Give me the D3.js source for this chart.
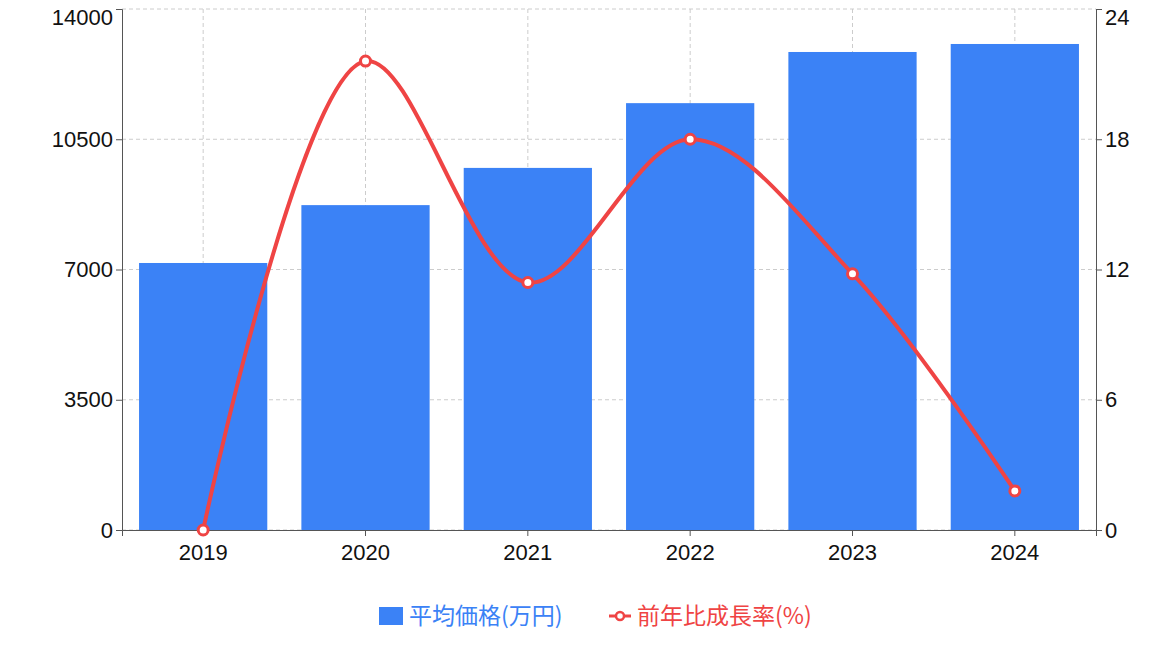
<!doctype html>
<html>
<head>
<meta charset="utf-8">
<title>平均価格</title>
<script src="https://cdn.jsdelivr.net/npm/d3@7"></script>
<style>
*{margin:0;padding:0;}
body{background:white;font-family:"Noto Sans CJK JP","Noto Sans",sans-serif;}
</style>
</head>
<body>
<script>
// データ
var years = ["2019","2020","2021","2022","2023","2024"];
var price = [7175, 8730, 9730, 11470, 12845, 13060];
var growth = [0, 21.6, 11.4, 18.0, 11.8, 1.8];
var leftTicks = [0, 3500, 7000, 10500, 14000];
var rightTicks = [0, 6, 12, 18, 24];

var W = 1153, H = 646;
var m = {left:122, right:57, top:9, bottom:116};
var iw = W - m.left - m.right, ih = H - m.top - m.bottom;

var svg = d3.select("body").append("svg").attr("width", W).attr("height", H);
var g = svg.append("g").attr("transform", "translate(" + m.left + "," + m.top + ")");

var x = d3.scaleBand().domain(years).range([0, iw]).paddingInner(0.21).paddingOuter(0.105);
var yL = d3.scaleLinear().domain([0, 14000]).range([ih, 0]);
var yR = d3.scaleLinear().domain([0, 24]).range([ih, 0]);

// グリッド
g.selectAll(".hg").data(leftTicks).enter().append("line")
  .attr("x1", 0).attr("x2", iw).attr("y1", yL).attr("y2", yL)
  .attr("stroke", "#ccc").attr("stroke-dasharray", "4,3");
g.selectAll(".vg").data(years).enter().append("line")
  .attr("x1", function(d){ return x(d) + x.bandwidth()/2; })
  .attr("x2", function(d){ return x(d) + x.bandwidth()/2; })
  .attr("y1", 0).attr("y2", ih)
  .attr("stroke", "#ccc").attr("stroke-dasharray", "4,3");

// 棒
g.selectAll(".bar").data(price).enter().append("rect")
  .attr("x", function(d, i){ return x(years[i]); })
  .attr("width", x.bandwidth())
  .attr("y", yL).attr("height", function(d){ return ih - yL(d); })
  .attr("fill", "#3b82f6");

// 軸
function styleAxis(sel){
  sel.selectAll("text").attr("font-size", 22).attr("fill", "#111")
    .attr("font-family", "Liberation Sans, Arial, sans-serif");
  sel.selectAll("path,line").attr("stroke", "#555");
}
g.append("g").attr("transform", "translate(0," + ih + ")")
  .call(d3.axisBottom(x).tickSize(6).tickPadding(8)).call(styleAxis);
g.append("g").call(d3.axisLeft(yL).tickValues(leftTicks).tickFormat(d3.format("d")).tickSize(6)).call(styleAxis);
g.append("g").attr("transform", "translate(" + iw + ",0)")
  .call(d3.axisRight(yR).tickValues(rightTicks).tickSize(6)).call(styleAxis);
// 上端のラベルが切れないように少し下げる
g.selectAll(".tick text").filter(function(d){ return d === 14000 || d === 24; }).attr("dy", "0.7em");

// 折れ線
var line = d3.line()
  .x(function(d, i){ return x(years[i]) + x.bandwidth()/2; })
  .y(function(d){ return yR(d); })
  .curve(d3.curveCatmullRom.alpha(0.5));
g.append("path").datum(growth).attr("d", line)
  .attr("fill", "none").attr("stroke", "#ef4444").attr("stroke-width", 4);
g.selectAll(".pt").data(growth).enter().append("circle")
  .attr("cx", function(d, i){ return x(years[i]) + x.bandwidth()/2; })
  .attr("cy", yR).attr("r", 5)
  .attr("fill", "white").attr("stroke", "#ef4444").attr("stroke-width", 3);

// 凡例
var lg = svg.append("g").attr("transform", "translate(379,616)");
lg.append("rect").attr("x", 0).attr("y", -9).attr("width", 24).attr("height", 18).attr("fill", "#3b82f6");
lg.append("text").attr("x", 30).attr("y", 8).attr("font-size", 23).attr("fill", "#3b82f6").text("平均価格(万円)");
lg.append("line").attr("x1", 230).attr("x2", 252).attr("y1", 0).attr("y2", 0).attr("stroke", "#ef4444").attr("stroke-width", 3);
lg.append("circle").attr("cx", 241).attr("cy", 0).attr("r", 4).attr("fill", "white").attr("stroke", "#ef4444").attr("stroke-width", 2.5);
lg.append("text").attr("x", 258).attr("y", 8).attr("font-size", 23).attr("fill", "#ef4444").text("前年比成長率(%)");
</script>
</body>
</html>
